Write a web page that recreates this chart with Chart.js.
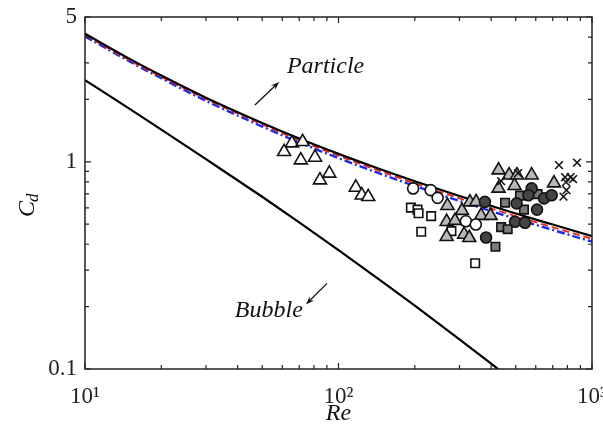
<!DOCTYPE html>
<html>
<head>
<meta charset="utf-8">
<script src="https://cdn.jsdelivr.net/npm/chart.js@4.4.1/dist/chart.umd.min.js"></script>
<style>
  html, body { margin: 0; padding: 0; background: #fff; }
</style>
</head>
<body>
<canvas id="cdChart" width="603" height="432"></canvas>
<script>
// Drag curves at a handful of Re values
const reGrid = [10, 15, 20, 30, 50, 70, 100, 150, 200, 300, 500, 700, 1000];
const particleBlack = [4.15, 3.14, 2.61, 2.04, 1.54, 1.295, 1.092, 0.910, 0.806, 0.684, 0.563, 0.498, 0.438];
const particleRed   = [4.09, 3.09, 2.57, 2.01, 1.515, 1.27, 1.07, 0.89, 0.787, 0.666, 0.547, 0.483, 0.425];
const particleBlue  = [4.03, 3.05, 2.53, 1.97, 1.48, 1.24, 1.042, 0.865, 0.765, 0.647, 0.531, 0.469, 0.412];
const bubbleRe = [10, 15, 20, 30, 50, 70, 100, 150, 200, 300, 450];
const bubbleCd = [2.48, 1.80, 1.43, 1.03, 0.678, 0.510, 0.375, 0.262, 0.202, 0.139, 0.095];

// Measurements, [Re, Cd]
const whiteTriangles = [[65.5, 1.231], [72.2, 1.249], [61.0, 1.118], [71.0, 1.019], [80.8, 1.050],
  [84.5, 0.816], [92.0, 0.879], [117, 0.752], [123.5, 0.690], [131, 0.678]];
const whiteSquares = [[193, 0.601], [205, 0.588], [207, 0.565], [232, 0.547], [212, 0.460], [279, 0.463], [346, 0.324]];
const whiteCircles = [[197, 0.744], [231, 0.730], [246, 0.670], [318, 0.517], [348, 0.498]];
const grayTriangles = [[269, 0.614], [307, 0.581], [267, 0.514], [288, 0.520], [267, 0.435], [313, 0.446],
  [328, 0.430], [330, 0.639], [349, 0.641], [365, 0.550], [398, 0.550], [428, 0.912], [428, 0.744],
  [471, 0.862], [506, 0.862], [495, 0.767], [578, 0.862], [708, 0.789]];
const graySquares = [[454, 0.635], [520, 0.687], [539, 0.588], [438, 0.484], [465, 0.473], [416, 0.389], [610, 0.698]];
const darkCircles = [[378, 0.641], [382, 0.431], [497, 0.514], [544, 0.508], [504, 0.630], [578, 0.744],
  [561, 0.690], [607, 0.588], [647, 0.666], [693, 0.690]];
const crosses = [[741, 0.964], [873, 0.991], [783, 0.843], [823, 0.843], [842, 0.825], [790, 0.798],
  [793, 0.730], [772, 0.679], [438, 0.807], [511, 0.882]];

// Axis ticks
const xMajor = [10, 100, 1000];
const xMinor = [20, 30, 40, 50, 60, 70, 80, 90, 200, 300, 400, 500, 600, 700, 800, 900];
const yMajor = [0.1, 1, 5];
const yMinor = [0.2, 0.3, 0.4, 0.5, 0.6, 0.7, 0.8, 0.9, 2, 3, 4];
const xTickText = { 10: '10¹', 100: '10²', 1000: '10³' };

// Annotations in data units
const particleNote = { re: 62.6, cd: 2.87, text: 'Particle', arrow: [[46.8, 1.88], [58.3, 2.43]] };
const bubbleNote = { re: 39.0, cd: 0.192, text: 'Bubble', arrow: [[90.1, 0.259], [74.4, 0.205]] };

const SERIF = '"Liberation Serif", "Times New Roman", Times, serif';

function pts(pairs) {
    return pairs.map(p => ({ x: p[0], y: p[1] }));
}
function curve(xs, ys) {
    return xs.map((v, i) => ({ x: v, y: ys[i] }));
}

function markers(data, style, radius, fill, order) {
    return {
        data: pts(data),
        pointStyle: style,
        pointRadius: radius,
        pointHoverRadius: radius,
        pointBackgroundColor: fill,
        pointBorderColor: '#111',
        pointBorderWidth: 1.6,
        showLine: false,
        order: order
    };
}

function lineSet(data, color, width, dash, order) {
    return {
        data: data,
        showLine: true,
        borderColor: color,
        borderWidth: width,
        borderDash: dash,
        pointRadius: 0,
        fill: false,
        cubicInterpolationMode: 'monotone',
        order: order
    };
}

function drawArrow(ctx, x1, y1, x2, y2) {
    const ang = Math.atan2(y2 - y1, x2 - x1);
    const head = 9;
    ctx.beginPath();
    ctx.moveTo(x1, y1);
    ctx.lineTo(x2 - Math.cos(ang) * 4, y2 - Math.sin(ang) * 4);
    ctx.stroke();
    ctx.beginPath();
    ctx.moveTo(x2, y2);
    ctx.lineTo(x2 - head * Math.cos(ang - 0.35), y2 - head * Math.sin(ang - 0.35));
    ctx.lineTo(x2 - head * 0.6 * Math.cos(ang), y2 - head * 0.6 * Math.sin(ang));
    ctx.lineTo(x2 - head * Math.cos(ang + 0.35), y2 - head * Math.sin(ang + 0.35));
    ctx.closePath();
    ctx.fill();
}

// Frame, inward ticks, axis titles and the two notes
const decorations = {
    id: 'decorations',
    afterDraw(chart) {
        const { ctx, chartArea: a, scales: { x, y } } = chart;
        ctx.save();
        ctx.strokeStyle = '#222';
        ctx.fillStyle = '#222';
        ctx.lineWidth = 1.5;
        ctx.strokeRect(a.left, a.top, a.right - a.left, a.bottom - a.top);

        ctx.lineWidth = 1.2;
        const vt = (v, len) => {
            const px = x.getPixelForValue(v);
            ctx.beginPath();
            ctx.moveTo(px, a.bottom); ctx.lineTo(px, a.bottom - len);
            ctx.moveTo(px, a.top); ctx.lineTo(px, a.top + len);
            ctx.stroke();
        };
        const ht = (v, len) => {
            const py = y.getPixelForValue(v);
            ctx.beginPath();
            ctx.moveTo(a.left, py); ctx.lineTo(a.left + len, py);
            ctx.moveTo(a.right, py); ctx.lineTo(a.right - len, py);
            ctx.stroke();
        };
        xMajor.forEach(v => vt(v, 6));
        xMinor.forEach(v => vt(v, 4));
        yMajor.forEach(v => ht(v, 6));
        yMinor.forEach(v => ht(v, 4));

        // x title
        ctx.fillStyle = '#111';
        ctx.font = 'italic 24px ' + SERIF;
        ctx.textAlign = 'center';
        ctx.textBaseline = 'alphabetic';
        ctx.fillText('Re', (a.left + a.right) / 2, 420);

        // y title C_d
        ctx.save();
        ctx.translate(34, (a.top + a.bottom) / 2 + 15);
        ctx.rotate(-Math.PI / 2);
        ctx.textAlign = 'left';
        ctx.font = 'italic 24px ' + SERIF;
        ctx.fillText('C', -9, 0);
        const cw = ctx.measureText('C').width;
        ctx.font = 'italic 17px ' + SERIF;
        ctx.fillText('d', -10 + cw, 4);
        ctx.restore();

        // notes
        ctx.strokeStyle = '#111';
        ctx.fillStyle = '#111';
        ctx.lineWidth = 1.3;
        [particleNote, bubbleNote].forEach(n => {
            ctx.font = 'italic 24px ' + SERIF;
            ctx.textAlign = 'left';
            ctx.textBaseline = 'middle';
            ctx.fillText(n.text, x.getPixelForValue(n.re), y.getPixelForValue(n.cd));
            const [p, q] = n.arrow;
            drawArrow(ctx, x.getPixelForValue(p[0]), y.getPixelForValue(p[1]),
                x.getPixelForValue(q[0]), y.getPixelForValue(q[1]));
        });
        ctx.restore();
    }
};

const ctx = document.getElementById('cdChart').getContext('2d');
const cdChart = new Chart(ctx, {
    type: 'scatter',
    data: {
        datasets: [
            markers(crosses, 'crossRot', 5.5, '#111', 1),
            markers(darkCircles, 'circle', 5.5, '#444', 2),
            markers(graySquares, 'rect', 6, '#7a7a7a', 3),
            markers(whiteCircles, 'circle', 5.5, '#fff', 4),
            markers(grayTriangles, 'triangle', 7.5, '#b8b8b8', 5),
            markers(whiteSquares, 'rect', 6, '#fff', 6),
            markers(whiteTriangles, 'triangle', 7.5, '#fff', 7),
            lineSet(curve(reGrid, particleBlack), '#000', 2.2, [], 8),
            lineSet(curve(bubbleRe, bubbleCd), '#000', 2.2, [], 8),
            lineSet(curve(reGrid, particleRed), '#e8231c', 1.8, [7, 4], 9),
            lineSet(curve(reGrid, particleBlue), '#1f2be6', 2.4, [8, 3, 2, 3], 10)
        ]
    },
    options: {
        responsive: false,
        animation: false,
        events: [],
        layout: { padding: { left: 0, right: 11, top: 17, bottom: 0 } },
        plugins: { legend: { display: false }, tooltip: { enabled: false } },
        scales: {
            x: {
                type: 'logarithmic',
                min: 10,
                max: 1000,
                grid: { display: false, drawTicks: false },
                border: { display: false },
                afterBuildTicks: s => { s.ticks = xMajor.map(v => ({ value: v })); },
                afterFit: s => { s.height = 63; s.paddingLeft = 0; s.paddingRight = 0; },
                ticks: {
                    autoSkip: false,
                    maxRotation: 0,
                    padding: 14,
                    color: '#222',
                    font: { family: SERIF, size: 23 },
                    callback: v => xTickText[v] || ''
                }
            },
            y: {
                type: 'logarithmic',
                min: 0.1,
                max: 5,
                grid: { display: false, drawTicks: false },
                border: { display: false },
                afterBuildTicks: s => { s.ticks = yMajor.map(v => ({ value: v })); },
                afterFit: s => { s.width = 85; s.paddingTop = 0; s.paddingBottom = 0; },
                ticks: {
                    autoSkip: false,
                    padding: 8,
                    color: '#222',
                    font: { family: SERIF, size: 23 },
                    callback: v => String(v)
                }
            }
        }
    },
    plugins: [decorations]
});
</script>
</body>
</html>
